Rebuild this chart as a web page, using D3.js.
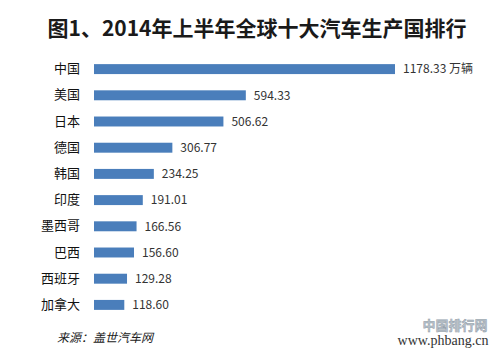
<!DOCTYPE html>
<html><head><meta charset="utf-8">
<script src="https://cdn.jsdelivr.net/npm/d3@7"></script>
<style>body{margin:0;background:#fff}svg{display:block}</style>
</head><body>
<svg id="c" width="500" height="353"></svg>
<script>
const categories = ["中国","美国","日本","德国","韩国","印度","墨西哥","巴西","西班牙","加拿大"];
const values = [1178.33,594.33,506.62,306.77,234.25,191.01,166.56,156.60,129.28,118.60];
const valueLabels = ["1178.33 万辆","594.33","506.62","306.77","234.25","191.01","166.56","156.60","129.28","118.60"];
const title = "图1、2014年上半年全球十大汽车生产国排行";
const source = "来源：盖世汽车网";

const svg = d3.select("#c");
const font = "'Noto Sans CJK SC','Noto Sans',sans-serif";
const y = d3.scaleBand().domain(categories).range([56,318]).paddingInner(0.62).paddingOuter(0.31);
const x = d3.scaleLinear().domain([0, d3.max(values)]).range([94, 395]);

svg.append("text").attr("x",257).attr("y",36).attr("text-anchor","middle")
  .attr("font-family",font).attr("font-weight","bold").attr("font-size",21).attr("fill","#1a1a1a").text(title);

const data = categories.map((c,i)=>({c, v:values[i], l:valueLabels[i]}));
svg.selectAll("rect.bar").data(data).join("rect").attr("class","bar")
  .attr("x",x(0)).attr("y",d=>y(d.c)).attr("width",d=>x(d.v)-x(0)).attr("height",y.bandwidth())
  .attr("fill","#4a7ebb");

const axis = d3.axisLeft(y).tickSize(0).tickPadding(14);
const g = svg.append("g").attr("transform",`translate(${x(0)},0)`).call(axis);
g.select(".domain").remove();
g.selectAll("text").attr("font-family",font).attr("font-size",13).attr("fill","#111");

svg.selectAll("text.val").data(data).join("text").attr("class","val")
  .attr("x",d=>x(d.v)+8).attr("y",d=>y(d.c)+y.bandwidth()/2).attr("dy","0.36em")
  .attr("font-family",font).attr("font-size",12).attr("fill","#333").text(d=>d.l);

svg.append("text").attr("x",57).attr("y",342).attr("font-family",font).attr("font-style","italic")
  .attr("font-size",12).attr("fill","#222").text(source);

// watermark
svg.append("text").attr("x",455).attr("y",330).attr("text-anchor","middle").attr("font-family",font)
  .attr("font-weight","bold").attr("font-size",13).attr("fill","#b9c3cc").attr("stroke","#8a96a2").attr("stroke-width",0.4).text("中国排行网");
svg.append("text").attr("x",443).attr("y",345).attr("text-anchor","middle").attr("font-family","'Liberation Serif',serif")
  .attr("font-size",14).attr("fill","#333").text("www.phbang.cn");
</script>
</body></html>
